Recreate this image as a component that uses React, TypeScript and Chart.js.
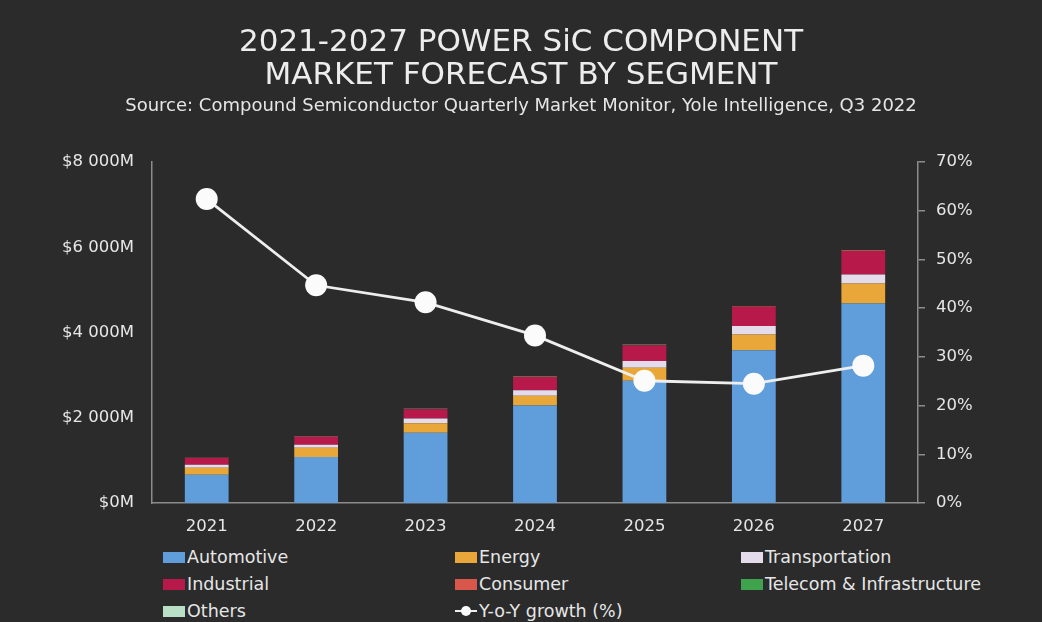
import React, { useEffect, useRef } from 'react';
import { Chart, registerables } from 'chart.js';

Chart.register(...registerables);

const years = ['2021', '2022', '2023', '2024', '2025', '2026', '2027'];
const automotive = [660, 1080, 1650, 2290, 2870, 3585, 4680];
const energy = [165, 215, 220, 228, 306, 369, 471];
const transportation = [70, 70, 110, 125, 155, 196, 212];
const industrial = [165, 190, 219, 315, 369, 456, 549];
const consumer = [3, 4, 5, 6, 7, 8, 10];
const telecom = [2, 3, 3, 4, 5, 6, 8];
const others = [2, 2, 3, 3, 4, 5, 6];
const growth = [62.4, 44.7, 41.2, 34.4, 25.1, 24.5, 28.2];

const leftTicks = [0, 2000, 4000, 6000, 8000];
const rightTicks = [0, 10, 20, 30, 40, 50, 60, 70];

const titleLines = ['2021-2027 POWER SiC COMPONENT', 'MARKET FORECAST BY SEGMENT'];
const subtitleText = 'Source: Compound Semiconductor Quarterly Market Monitor, Yole Intelligence, Q3 2022';

const BG = '#2b2b2b';
const TEXT = '#e6e6e6';
const AXIS = '#8c8c8c';
const FONT = '"DejaVu Sans", "Open Sans", sans-serif';

const segments = [
  { label: 'Automotive', data: automotive, color: '#5f9ddb' },
  { label: 'Energy', data: energy, color: '#e9a73a' },
  { label: 'Transportation', data: transportation, color: '#e4dcea' },
  { label: 'Industrial', data: industrial, color: '#b8194b' },
  { label: 'Consumer', data: consumer, color: '#d9574a' },
  { label: 'Telecom & Infrastructure', data: telecom, color: '#3fa34d' },
  { label: 'Others', data: others, color: '#b9e0c6' },
];
const growthLabel = 'Y-o-Y growth (%)';

const legendCols = [163, 455, 741];
const legendRows = [557, 584, 611];

export default function App() {
  const canvasRef = useRef<HTMLCanvasElement | null>(null);

  useEffect(() => {
    const canvas = canvasRef.current;
    if (!canvas) return;
    const chart = new Chart(canvas, {
      type: 'bar',
      data: {
        labels: years,
        datasets: [
          {
            type: 'line',
            label: growthLabel,
            data: growth,
            yAxisID: 'y1',
            borderColor: '#eeeeee',
            borderWidth: 2.8,
            pointRadius: 11,
            pointBackgroundColor: '#fbfbfb',
            pointBorderWidth: 0,
            pointBorderColor: '#fbfbfb',
            tension: 0,
            order: 0,
          } as any,
          ...segments.map((s) => ({
            type: 'bar',
            label: s.label,
            data: s.data,
            backgroundColor: s.color,
            borderWidth: 0,
            yAxisID: 'y',
            order: 1,
            categoryPercentage: 1,
            barPercentage: 0.4,
          })),
        ],
      },
      options: {
        responsive: false,
        animation: false,
        layout: { padding: 0 },
        plugins: {
          legend: { display: false },
          tooltip: { enabled: false },
          title: {
            display: true,
            text: titleLines,
            color: '#ededed',
            font: { family: FONT, size: 31, weight: 'normal', lineHeight: 1.065 },
            padding: { top: 26, bottom: 3 },
          },
          subtitle: {
            display: true,
            text: subtitleText,
            color: TEXT,
            font: { family: FONT, size: 18, weight: 'normal', lineHeight: 1.2 },
            padding: { top: 0, bottom: 45.4 },
          },
        },
        scales: {
          x: {
            stacked: true,
            grid: { display: false, drawTicks: false },
            border: { display: true, color: AXIS, width: 1.5 },
            ticks: { color: TEXT, font: { family: FONT, size: 16.5 }, padding: 14 },
            afterFit: (scale: any) => {
              scale.height = 540 - 503;
            },
          },
          y: {
            stacked: true,
            position: 'left',
            min: 0,
            max: 8000,
            grid: { display: false, drawTicks: false },
            border: { display: true, color: AXIS, width: 1.5 },
            afterBuildTicks: (scale: any) => {
              scale.ticks = leftTicks.map((v) => ({ value: v }));
            },
            ticks: {
              color: TEXT,
              font: { family: FONT, size: 16.5 },
              padding: 18,
              callback: (v: any) => (Number(v) === 0 ? '$0M' : `$${Number(v) / 1000} 000M`),
            },
            afterFit: (scale: any) => {
              scale.width = 152;
            },
          },
          y1: {
            position: 'right',
            min: 0,
            max: 70,
            grid: { display: true, drawOnChartArea: false, drawTicks: true, tickLength: 7, color: AXIS, lineWidth: 1.5 },
            border: { display: true, color: AXIS, width: 1.5 },
            afterBuildTicks: (scale: any) => {
              scale.ticks = rightTicks.map((v) => ({ value: v }));
            },
            ticks: {
              color: TEXT,
              font: { family: FONT, size: 16.5 },
              padding: 11,
              callback: (v: any) => `${v}%`,
            },
            afterFit: (scale: any) => {
              scale.width = 1042 - 918;
            },
          },
        },
      } as any,
    });
    return () => chart.destroy();
  }, []);

  const legendItems = [
    ...segments.map((s) => ({ label: s.label, color: s.color, line: false })),
    { label: growthLabel, color: '#fbfbfb', line: true },
  ];

  return (
    <div
      style={{
        position: 'fixed',
        left: 0,
        top: 0,
        width: 1042,
        height: 622,
        background: BG,
        overflow: 'hidden',
      }}
    >
      <canvas ref={canvasRef} width={1042} height={540} style={{ display: 'block', width: 1042, height: 540 }} />
      {legendItems.map((item, k) => {
        const col = k % 3;
        const row = Math.floor(k / 3);
        return (
          <div
            key={item.label}
            style={{
              position: 'absolute',
              left: legendCols[col],
              top: legendRows[row] - 12,
              height: 24,
              display: 'flex',
              alignItems: 'center',
              color: TEXT,
              fontFamily: FONT,
              fontSize: 17.5,
              whiteSpace: 'nowrap',
            }}
          >
            {item.line ? (
              <svg width={22} height={14} style={{ marginRight: 2 }}>
                <line x1={0} y1={7} x2={22} y2={7} stroke="#eeeeee" strokeWidth={2} />
                <circle cx={11} cy={7} r={5} fill="#fbfbfb" />
              </svg>
            ) : (
              <span style={{ display: 'inline-block', width: 22, height: 11, background: item.color, marginRight: 2 }} />
            )}
            <span>{item.label}</span>
          </div>
        );
      })}
    </div>
  );
}
